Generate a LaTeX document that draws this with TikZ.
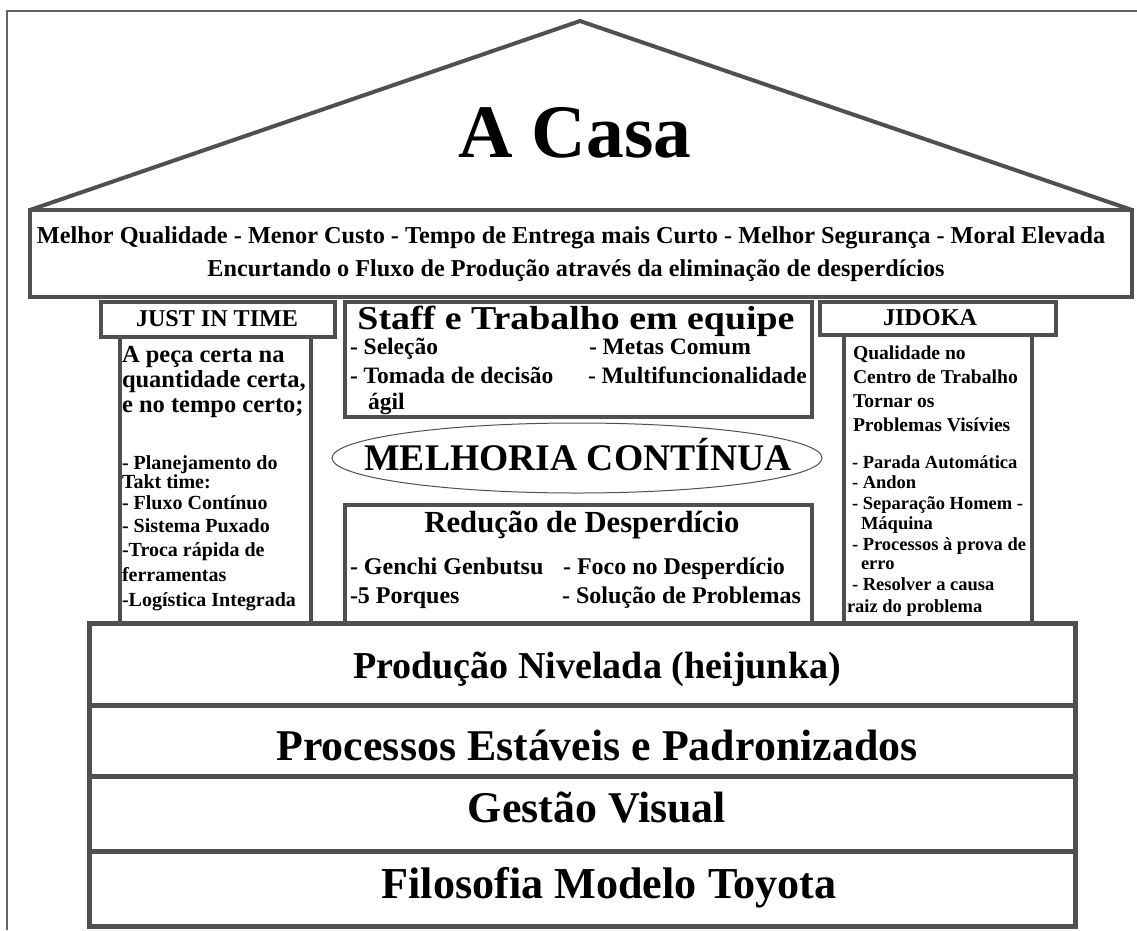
\documentclass[tikz,border=0pt]{standalone}
\usepackage{fontspec}
\setmainfont{Liberation Serif}
\usepackage{graphicx}
\definecolor{lc}{RGB}{80,80,80}
\definecolor{frame}{RGB}{100,100,100}
\newcommand\fitw[2]{\resizebox{#1pt}{!}{#2}}
\begin{document}
\begin{tikzpicture}[x=1pt,y=-1pt,
  boxline/.style={draw=lc, line width=4pt},
  colline/.style={draw=lc, line width=3.5pt},
  ctxt/.style={inner sep=0pt, outer sep=0pt, font=\bfseries, anchor=base},
  ltxt/.style={inner sep=0pt, outer sep=0pt, anchor=base west},
  jitA/.style={ltxt, font=\bfseries\fontsize{24.5}{26}\selectfont},
  jitB/.style={ltxt, font=\bfseries\fontsize{20}{22}\selectfont},
  stf/.style={ltxt, font=\bfseries\fontsize{23.5}{25}\selectfont},
  red/.style={ltxt, font=\bfseries\fontsize{24}{25}\selectfont},
  jidA/.style={ltxt, font=\bfseries\fontsize{19.6}{21}\selectfont},
  jidB/.style={ltxt, font=\bfseries\fontsize{18.5}{20}\selectfont},
]
\useasboundingbox (0,0) rectangle (1137,930);
\fill[white] (0,0) rectangle (1137,930);
% outer frame
\draw[draw=frame, line width=1.5pt] (7,930) -- (7,11) -- (1137,11);

% roof
\coordinate (roofL) at (30,210);
\coordinate (apex) at (580,21);
\coordinate (roofR) at (1132,210);
\draw[boxline, line join=miter] (roofL) -- (apex) -- (roofR);
\node[ctxt] (casa) at (575,157) {\fitw{233}{A Casa}};

% band
\draw[boxline] (30,210) rectangle (1132,297);
\node[ctxt] (band1) at (571,243) {\fitw{1068}{Melhor Qualidade - Menor Custo - Tempo de Entrega mais Curto - Melhor Segurança - Moral Elevada}};
\node[ctxt] (band2) at (576,276) {\fitw{737}{Encurtando o Fluxo de Produção através da eliminação de desperdícios}};

% JUST IN TIME pillar
\draw[boxline] (101,302) rectangle (335,337);
\node[ctxt] (jit) at (217,326) {\fitw{162}{JUST IN TIME}};
\draw[colline] (120,337) -- (120,623);
\draw[colline] (311,337) -- (311,623);
\node[jitA] (jit1) at (122,362) {A peça certa na};
\node[jitA] (jit2) at (122,387) {quantidade certa,};
\node[jitA] (jit3) at (122,412) {e no tempo certo;};
\node[jitB] (jit4) at (122,469) {- Planejamento do};
\node[jitB] (jit5) at (122,488) {Takt time:};
\node[jitB] (jit6) at (122,509) {- Fluxo Contínuo};
\node[jitB] (jit7) at (122,532) {- Sistema Puxado};
\node[jitB] (jit8) at (122,556) {-Troca rápida de};
\node[jitB] (jit9) at (122,581) {ferramentas};
\node[jitB] (jit10) at (122,606) {-Logística Integrada};

% Staff box
\draw[boxline] (345,302) rectangle (812,417);
\node[ctxt] (staff) at (576,329) {\fitw{437}{\scalebox{1}[0.88]{Staff e Trabalho em equipe}}};
\node[stf] (stf1) at (350,354) {- Seleção};
\node[stf] (stf2) at (589,354) {- Metas Comum};
\node[stf] (stf3) at (350,383) {- Tomada de decisão};
\node[stf] (stf4) at (588,383) {- Multifuncionalidade};
\node[stf] (stf5) at (368,409) {ágil};

% Melhoria continua
\draw[draw=lc, line width=1pt] (577,458) ellipse [x radius=245, y radius=35];
\node[ctxt] (melhoria) at (578,470) {\fitw{427}{MELHORIA CONTÍNUA}};

% Reducao de desperdicio
\draw[boxline] (345,505) rectangle (812,623);
\node[ctxt] (reducao) at (582,532) {\fitw{315}{Redução de Desperdício}};
\node[red] (red1) at (350,574) {- Genchi Genbutsu};
\node[red] (red2) at (563,574) {- Foco no Desperdício};
\node[red] (red3) at (350,603) {-5 Porques};
\node[red] (red4) at (562,603) {- Solução de Problemas};

% JIDOKA pillar
\draw[boxline] (820,302) rectangle (1056,335);
\node[ctxt] (jidoka) at (930,325) {\fitw{94}{JIDOKA}};
\draw[colline] (844,335) -- (844,623);
\draw[colline] (1032,335) -- (1032,623);
\node[jidA] (jid1) at (853,359) {Qualidade no};
\node[jidA] (jid2) at (853,383) {Centro de Trabalho};
\node[jidA] (jid3) at (853,407) {Tornar os};
\node[jidA] (jid4) at (853,431) {Problemas Visívies};
\node[jidB] (jid5) at (852,468) {- Parada Automática};
\node[jidB] (jid6) at (852,488) {- Andon};
\node[jidB] (jid7) at (852,509) {- Separação Homem -};
\node[jidB] (jid8) at (861,529) {Máquina};
\node[jidB] (jid9) at (852,550) {- Processos à prova de};
\node[jidB] (jid10) at (861,569) {erro};
\node[jidB] (jid11) at (852,590) {- Resolver a causa};
\node[jidB] (jid12) at (847,612) {raiz do problema};

% base
\draw[draw=lc, line width=5pt] (89,623) rectangle (1075,926);
\draw[draw=lc, line width=5pt] (89,705) -- (1075,705);
\draw[draw=lc, line width=5pt] (89,776) -- (1075,776);
\draw[draw=lc, line width=5pt] (89,851) -- (1075,851);
\node[ctxt] (heijunka) at (597,678) {\fitw{488}{Produção Nivelada (heijunka)}};
\node[ctxt] (processos) at (597,760) {\fitw{641}{Processos Estáveis e Padronizados}};
\node[ctxt] (gestao) at (597,822) {\fitw{258}{Gestão Visual}};
\node[ctxt] (filosofia) at (609,898) {\fitw{455}{Filosofia Modelo Toyota}};
\end{tikzpicture}
\end{document}
